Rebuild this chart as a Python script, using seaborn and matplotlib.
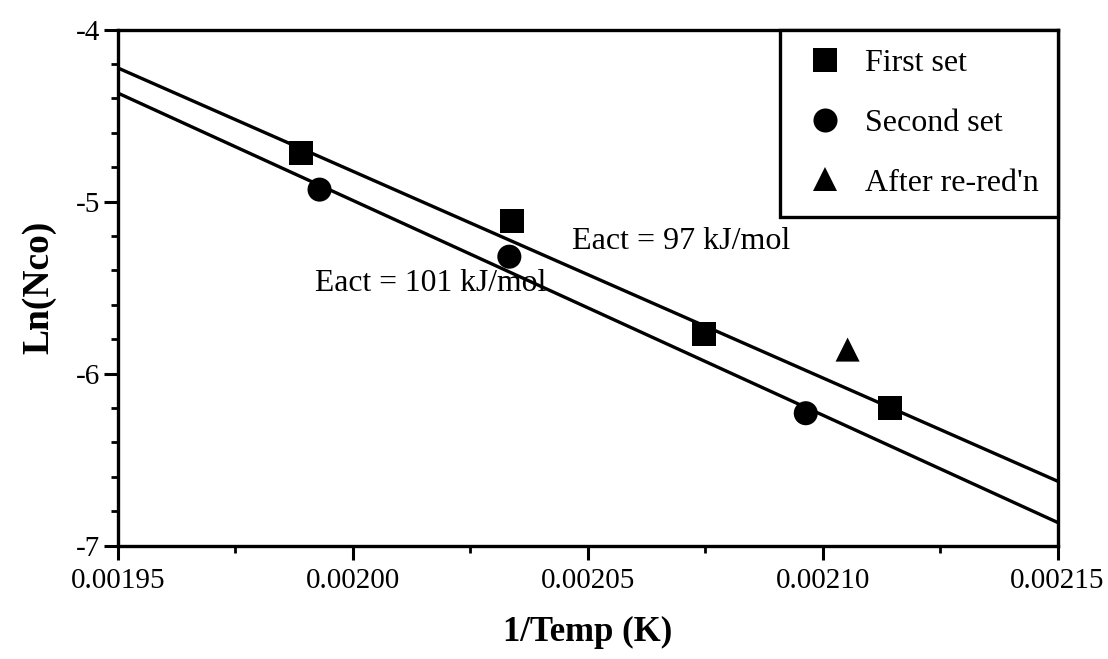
import numpy as np
import pandas as pd
import matplotlib
matplotlib.use("Agg")
import matplotlib.pyplot as plt
from matplotlib.ticker import MultipleLocator, FormatStrFormatter
import seaborn as sns

# Measured points: inverse temperature (1/K) and ln of CO uptake
first_x = [0.001989, 0.0020338, 0.0020748, 0.0021143]
first_y = [-4.715, -5.113, -5.770, -6.200]
second_x = [0.0019929, 0.0020333, 0.0020964]
second_y = [-4.930, -5.320, -6.230]
rered_x = [0.0021053]
rered_y = [-5.860]

# Arrhenius fit lines across the plotted range
fit_x = [0.00195, 0.00215]
fit_first_y = [-4.223, -6.625]
fit_second_y = [-4.369, -6.865]

series_names = ["First set", "Second set", "After re-red'n"]
x_ticks = [0.00195, 0.00200, 0.00205, 0.00210, 0.00215]
y_ticks = [-4, -5, -6, -7]

points = pd.DataFrame({
    "inv_T": first_x + second_x + rered_x,
    "ln_N": first_y + second_y + rered_y,
    "set": [series_names[0]] * len(first_x)
           + [series_names[1]] * len(second_x)
           + [series_names[2]] * len(rered_x),
})
fits = pd.DataFrame({
    "inv_T": fit_x + fit_x,
    "ln_N": fit_first_y + fit_second_y,
    "fit": ["97"] * 2 + ["101"] * 2,
})

sns.set_theme(style="ticks")
plt.rcParams["font.family"] = ["Liberation Serif", "DejaVu Serif"]
plt.rcParams["text.color"] = "black"
plt.rcParams["axes.labelcolor"] = "black"

fig = plt.figure(figsize=(11.08, 6.59), dpi=100)
ax = fig.add_axes([0.1065, 0.172, 0.848, 0.783])

sns.lineplot(data=fits, x="inv_T", y="ln_N", units="fit", estimator=None,
             color="black", linewidth=2.4, ax=ax, legend=False)
sns.scatterplot(data=points, x="inv_T", y="ln_N", style="set",
                markers={series_names[0]: "s", series_names[1]: "o",
                         series_names[2]: "^"},
                color="black", s=300, edgecolor="black", linewidth=0,
                ax=ax)

ax.set_xlim(0.00195, 0.00215)
ax.set_ylim(-7, -4)
ax.set_xticks(x_ticks)
ax.set_yticks(y_ticks)
ax.xaxis.set_major_formatter(FormatStrFormatter("%.5f"))
ax.yaxis.set_major_formatter(FormatStrFormatter("%d"))
ax.xaxis.set_minor_locator(MultipleLocator(0.000025))
ax.yaxis.set_minor_locator(MultipleLocator(0.2))

for sp in ax.spines.values():
    sp.set_linewidth(2.4)
    sp.set_color("black")
ax.tick_params(which="major", direction="out", length=10, width=2.2,
               labelsize=21, colors="black", pad=3)
ax.tick_params(axis="x", which="major", pad=6)
ax.tick_params(which="minor", direction="out", length=5, width=2.0,
               colors="black")

ax.set_xlabel("1/Temp (K)", fontsize=25, fontweight="bold", labelpad=16)
ax.set_ylabel("Ln(Nco)", fontsize=27, fontweight="bold", labelpad=14)

ax.text(0.001992, -5.476, "Eact = 101 kJ/mol", fontsize=22.8, ha="left",
        va="center", color="black")
ax.text(0.0020466, -5.23, "Eact = 97 kJ/mol", fontsize=23, ha="left",
        va="center", color="black")

leg = ax.legend(loc="upper right", borderaxespad=0, fontsize=23,
                frameon=True, fancybox=False, markerscale=1.0,
                handletextpad=0.45, labelspacing=0.95, borderpad=0.6,
                handlelength=1.6, title=None)
leg.get_frame().set_edgecolor("black")
leg.get_frame().set_linewidth(2.4)
leg.get_frame().set_alpha(1)
for t in leg.get_texts():
    t.set_color("black")

fig.savefig("out.png", dpi=100, facecolor="white")
